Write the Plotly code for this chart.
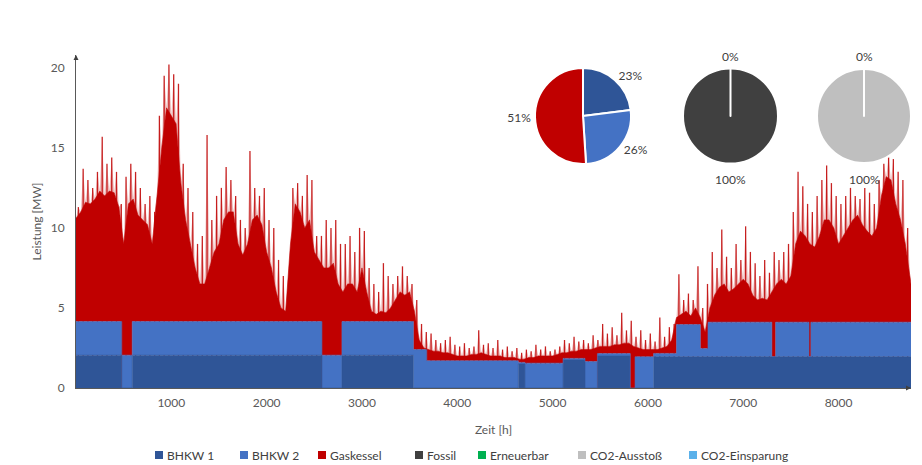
import plotly.graph_objects as go

# ---------------- data ----------------
# Total load, solid (dense) level, every 50 h  [MW]
dense_hours = list(range(0, 8800, 50)) + [8760]
dense_mw = [
    10.6, 11.0, 11.6, 11.5, 11.8, 12.3, 12.0, 12.3, 12.2, 11.3,   # 0-450
    9.0, 11.5, 11.8, 10.8, 10.5, 10.2, 9.0, 12.0, 15.0, 17.5,     # 500-950
    17.0, 16.5, 12.8, 10.5, 9.0, 7.5, 6.5, 6.5, 7.5, 8.5,         # 1000-1450
    9.0, 10.5, 11.0, 11.0, 9.0, 8.3, 9.0, 10.5, 10.8, 10.2,       # 1500-1950
    8.5, 7.5, 6.0, 5.0, 4.8, 9.0, 11.5, 11.0, 10.0, 10.5,         # 2000-2450
    8.5, 8.0, 7.5, 7.5, 7.8, 6.5, 6.0, 6.5, 6.5, 6.0,             # 2500-2950
    7.5, 6.0, 4.8, 4.6, 4.8, 4.7, 5.0, 5.5, 6.0, 5.8,             # 3000-3450
    6.0, 4.8, 3.0, 2.5, 2.4, 2.3, 2.3, 2.2, 2.2, 2.1,             # 3500-3950
    2.0, 2.0, 2.0, 2.1, 2.1, 2.2, 2.1, 2.0, 2.0, 2.0,             # 4000-4450
    1.9, 1.9, 1.9, 1.8, 1.8, 1.9, 1.9, 2.0, 2.0, 2.0,             # 4500-4950
    2.0, 2.1, 2.2, 2.2, 2.3, 2.3, 2.4, 2.4, 2.4, 2.5,             # 5000-5450
    2.6, 2.6, 2.6, 2.7, 2.7, 2.8, 2.8, 2.6, 2.5, 2.4,             # 5500-5950
    2.4, 2.4, 2.4, 2.5, 2.6, 3.0, 4.4, 4.6, 4.8, 4.5,             # 6000-6450
    5.0, 4.4, 3.5, 5.0, 5.8, 6.3, 6.5, 6.0, 6.2, 6.5,             # 6500-6950
    6.8, 6.5, 5.8, 5.5, 5.6, 5.5, 6.0, 6.5, 6.8, 6.5,             # 7000-7450
    7.0, 9.0, 9.8, 9.5, 9.0, 8.8, 9.5, 10.5, 10.5, 10.0,          # 7500-7950
    9.0, 9.5, 10.0, 10.5, 10.8, 10.2, 9.8, 9.5, 10.0, 12.0,       # 8000-8450
    13.2, 13.0, 11.5, 10.5, 9.0, 7.0,                              # 8500-8750
    6.5,                                                           # 8760
]

# Spike tips of the load (short peaks), every 50 h offset by 25 h [MW]
tip_hours = list(range(25, 8750, 50))
tip_mw = [
    11.3, 13.7, 13.0, 12.5, 13.5, 15.7, 14.0, 14.4, 13.5, 11.5,   # 25-475
    13.2, 14.0, 13.5, 12.5, 11.5, 12.0, 11.0, 17.0, 19.5, 20.2,   # 525-975
    19.6, 19.0, 14.0, 12.5, 11.0, 9.0, 9.5, 15.8, 10.5, 12.0,     # 1025-1475
    12.5, 13.8, 13.0, 12.0, 10.5, 10.0, 14.8, 12.5, 12.0, 12.5,   # 1525-1975
    10.5, 10.0, 8.0, 7.0, 6.0, 12.5, 12.8, 12.0, 13.3, 13.0,      # 2025-2475
    9.5, 9.5, 10.5, 10.0, 10.5, 9.0, 9.0, 9.5, 8.5, 10.0,         # 2525-2975
    9.8, 7.5, 6.5, 6.0, 7.8, 7.0, 6.5, 7.0, 7.6, 7.0,             # 3025-3475
    6.5, 5.5, 4.0, 3.5, 3.4, 3.0, 2.8, 3.0, 3.2, 2.7,             # 3525-3975
    2.6, 2.8, 2.5, 2.6, 3.6, 2.7, 2.8, 2.5, 3.0, 2.4,             # 4025-4475
    2.6, 2.3, 2.5, 2.2, 2.4, 2.3, 2.7, 2.4, 2.6, 2.3,             # 4525-4975
    2.4, 2.6, 3.0, 2.8, 3.2, 2.9, 3.0, 2.8, 3.3, 3.0,             # 5025-5475
    4.0, 3.4, 3.8, 3.3, 4.7, 3.6, 4.2, 3.2, 3.6, 3.0,             # 5525-5975
    3.4, 2.9, 4.4, 3.2, 3.8, 4.0, 7.1, 5.5, 5.9, 5.5,             # 6025-6475
    7.6, 5.0, 6.5, 8.5, 7.5, 9.9, 8.2, 7.5, 9.0, 8.0,             # 6525-6975
    10.1, 8.5, 7.8, 7.0, 8.0, 7.2, 8.5, 8.0, 8.5, 9.0,            # 7025-7475
    11.0, 13.5, 12.6, 11.5, 11.0, 12.0, 13.0, 13.9, 12.8, 12.0,   # 7525-7975
    11.5, 12.0, 12.5, 12.0, 11.8, 12.5, 12.2, 11.5, 13.0, 14.0,   # 8025-8475
    14.4, 14.3, 13.5, 13.0, 10.0,                                  # 8525-8725
]

# CHP units (step changes) [MW]
bhkw1_hours = [0, 480, 590, 2580, 2790, 3540, 4640, 4710, 5110, 5340, 5470, 5815, 6060, 8760]
bhkw1_mw = [2.05, 0.0, 2.05, 0.0, 2.05, 0.0, 1.5, 0.0, 1.75, 0.0, 2.0, 0.0, 1.96, 1.96]

bhkw2_hours = [0, 480, 590, 2580, 2790, 3540, 3680, 4640, 4710, 5110, 5340, 5470, 5815, 5865,
               6060, 6300, 6550, 6630, 7300, 7340, 7690, 7710, 8760]
bhkw2_mw = [2.1, 2.05, 2.1, 2.05, 2.1, 2.4, 1.7, 0.1, 1.55, 0.1, 1.65, 0.15, 0.0, 1.95,
            0.2, 2.0, 0.5, 2.15, 0.0, 2.15, 0.0, 2.15, 2.15]

# Pie shares
pie1_labels = ["BHKW 1", "BHKW 2", "Gaskessel"]
pie1_values = [23, 26, 51]
pie2_labels = ["Fossil", "Erneuerbar"]
pie2_values = [100, 0]
pie3_labels = ["CO2-Ausstoß", "CO2-Einsparung"]
pie3_values = [100, 0]

x_ticks = [1000, 2000, 3000, 4000, 5000, 6000, 7000, 8000]
y_ticks = [0, 5, 10, 15, 20]

# ---------------- colours / fonts ----------------
C_B1 = "#2F5597"
C_B2 = "#4472C4"
C_GAS = "#C00000"
C_FOS = "#404040"
C_ERN = "#00B050"
C_CO2 = "#BFBFBF"
C_SAV = "#5BB1EA"
TXT = "#404040"
AX = "#595959"
FONT = "Lato, Carlito, Calibri, sans-serif"

# ---------------- layout geometry ----------------
W, H = 922, 465
L, R, T, B = 76, 11, 55, 77
PW, PH = W - L - R, H - T - B


def pxx(x):
    return (x - L) / PW


def pxy(y):
    return (H - B - y) / PH


# ---------------- derived series ----------------
def step_value(hours, vals, h):
    v = vals[0]
    for hh, vv in zip(hours, vals):
        if hh <= h:
            v = vv
    return v


union_hours = sorted(set(bhkw1_hours) | set(bhkw2_hours))
b1_union = [step_value(bhkw1_hours, bhkw1_mw, h) for h in union_hours]
b12_union = [step_value(bhkw1_hours, bhkw1_mw, h) + step_value(bhkw2_hours, bhkw2_mw, h)
             for h in union_hours]

needle_x, needle_y = [], []
for h, v in zip(tip_hours, tip_mw):
    needle_x += [h, h, None]
    needle_y += [0, v, None]

# outline through dense points and tips (for the faded fringe)
fringe_x, fringe_y = [], []
for i, h in enumerate(dense_hours):
    fringe_x.append(h)
    fringe_y.append(dense_mw[i])
    if i < len(tip_hours):
        fringe_x.append(tip_hours[i])
        fringe_y.append(tip_mw[i])

fig = go.Figure()

# load spikes (drawn first; hidden below the solid level)
fig.add_trace(go.Scatter(x=needle_x, y=needle_y, mode="lines",
                         line=dict(color="rgba(192,0,0,0.85)", width=1.3),
                         showlegend=False, hoverinfo="skip"))
# BHKW 1
fig.add_trace(go.Scatter(x=union_hours, y=b1_union, mode="lines",
                         line=dict(width=0.6, shape="hv", color=C_B1),
                         fill="tozeroy", fillcolor=C_B1, showlegend=False, hoverinfo="skip"))
# BHKW 1 + BHKW 2
fig.add_trace(go.Scatter(x=union_hours, y=b12_union, mode="lines",
                         line=dict(width=0.6, shape="hv", color=C_B2),
                         fill="tonexty", fillcolor=C_B2, showlegend=False, hoverinfo="skip"))
# Gaskessel (up to total load)
fig.add_trace(go.Scatter(x=dense_hours, y=dense_mw, mode="lines",
                         line=dict(width=0.6, color=C_GAS),
                         fill="tonexty", fillcolor=C_GAS, showlegend=False, hoverinfo="skip"))
# faded fringe of the load peaks
fig.add_trace(go.Scatter(x=fringe_x, y=fringe_y, mode="lines", line=dict(width=0),
                         fill="tonexty", fillcolor="rgba(192,0,0,0.28)",
                         showlegend=False, hoverinfo="skip"))

# ---------------- pies ----------------
pie_geo = [
    (pie1_labels, pie1_values, [C_B1, C_B2, C_GAS], (535, 631)),
    (pie2_labels, pie2_values, [C_FOS, C_ERN], (683, 778)),
    (pie3_labels, pie3_values, [C_CO2, C_SAV], (817, 911)),
]
PIE_TOP, PIE_BOT = 68, 164
annotations = []
for i, (labs, vals, cols, (xa, xb)) in enumerate(pie_geo):
    fig.add_trace(go.Pie(
        labels=labs, values=vals, sort=False, direction="clockwise", rotation=0,
        marker=dict(colors=cols, line=dict(color="white", width=2)),
        domain=dict(x=[max(0, pxx(xa)), min(1, pxx(xb))], y=[pxy(PIE_BOT), pxy(PIE_TOP)]),
        textinfo="percent" if i == 0 else "none",
        texttemplate="%{percent:.0%}" if i == 0 else None,
        textposition="outside",
        textfont=dict(size=12, color=TXT, family=FONT),
        hoverinfo="skip", showlegend=False,
    ))
    if i > 0:
        tot = sum(vals)
        cx = pxx((xa + xb) / 2)
        annotations.append(dict(x=cx, y=pxy(PIE_TOP - 11), xref="paper", yref="paper",
                                xanchor="center", yanchor="middle",
                                text=f"{round(100 * vals[1] / tot)}%", showarrow=False,
                                font=dict(size=12, color=TXT, family=FONT)))
        annotations.append(dict(x=cx, y=pxy(PIE_BOT + 15), xref="paper", yref="paper",
                                xanchor="center", yanchor="middle",
                                text=f"{round(100 * vals[0] / tot)}%", showarrow=False,
                                font=dict(size=12, color=TXT, family=FONT)))

# ---------------- legend (Excel style, squares + text) ----------------
legend_labels = pie1_labels + pie2_labels + pie3_labels
legend_colors = [C_B1, C_B2, C_GAS, C_FOS, C_ERN, C_CO2, C_SAV]
legend_px = [155, 240, 318, 415, 478, 578, 689]
LEG_Y = 455
shapes = []
for lab, col, px in zip(legend_labels, legend_colors, legend_px):
    shapes.append(dict(type="rect", xref="paper", yref="paper",
                       x0=pxx(px), x1=pxx(px + 8), y0=pxy(LEG_Y + 4), y1=pxy(LEG_Y - 4),
                       fillcolor=col, line=dict(width=0)))
    annotations.append(dict(x=pxx(px + 10), y=pxy(LEG_Y), xref="paper", yref="paper",
                            xanchor="left", yanchor="middle", text=lab, showarrow=False,
                            font=dict(size=12, color=TXT, family=FONT)))

# axis arrows
annotations += [
    dict(x=0, y=20.8, xref="x", yref="y", ax=0, ay=6, showarrow=True, arrowhead=2,
         arrowsize=1, arrowwidth=1, arrowcolor=TXT, text=""),
    dict(x=8760, y=0, xref="x", yref="y", ax=-6, ay=0, showarrow=True, arrowhead=2,
         arrowsize=1, arrowwidth=1, arrowcolor=TXT, text=""),
]

fig.update_layout(
    width=W, height=H,
    margin=dict(l=L, r=R, t=T, b=B, autoexpand=False),
    paper_bgcolor="white", plot_bgcolor="white",
    font=dict(family=FONT, size=12, color=TXT),
    showlegend=False,
    xaxis=dict(range=[0, 8760], tickvals=x_ticks, showgrid=False, zeroline=False,
               showline=True, linecolor=AX, linewidth=1, ticks="", ticklabelstandoff=4,
               tickfont=dict(size=12, color=AX),
               title=dict(text="Zeit [h]", font=dict(size=12, color=AX), standoff=16)),
    yaxis=dict(range=[0, 20.8], tickvals=y_ticks, showgrid=False, zeroline=False,
               showline=True, linecolor=AX, linewidth=1, ticks="", ticklabelstandoff=8,
               tickfont=dict(size=12, color=AX),
               title=dict(text="Leistung [MW]", font=dict(size=12, color=AX), standoff=6)),
    shapes=shapes,
    annotations=annotations,
)

fig.write_html("out.html", config={"displayModeBar": False},
               post_script="document.body.style.margin='0';")
